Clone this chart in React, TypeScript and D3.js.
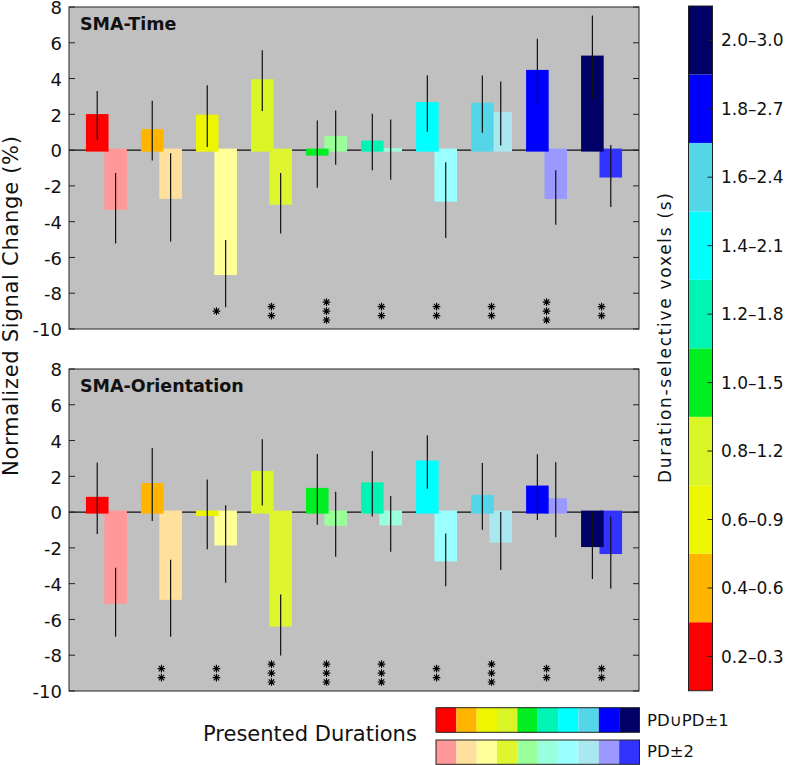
import React from 'react';
import * as d3 from 'd3';

const groups = [1, 2, 3, 4, 5, 6, 7, 8, 9, 10];
const darkColors = ['#ff0000', '#ffb400', '#eef500', '#d9f526', '#00ee22', '#00f5b4', '#00ffff', '#55d5e8', '#0000ff', '#000066'];
const lightColors = ['#ff9999', '#ffe09c', '#ffff99', '#def530', '#99ff99', '#99ffdd', '#99ffff', '#aae8f0', '#9999ff', '#3333ff'];
const durationLabels = ['0.2–0.3', '0.4–0.6', '0.6–0.9', '0.8–1.2', '1.0–1.5', '1.2–1.8', '1.4–2.1', '1.6–2.4', '1.8–2.7', '2.0–3.0'];

// SMA-Time
const timeDark = [1.93, 1.09, 1.9, 3.88, -0.22, 0.45, 2.6, 2.57, 4.4, 5.2];
const timeDarkErr = [1.37, 1.67, 1.72, 1.7, 1.88, 1.58, 1.58, 1.6, 1.82, 2.33];
const timeLight = [-3.25, -2.64, -6.9, -2.97, 0.7, 0.03, -2.8, 2.05, -2.65, -1.45];
const timeLightErr = [1.97, 2.47, 1.88, 1.69, 1.52, 1.68, 2.12, 1.79, 1.52, 1.73];
const timeStars = [0, 0, 1, 2, 3, 2, 2, 2, 3, 2];

// SMA-Orientation
const oriDark = [0.77, 1.54, -0.13, 2.22, 1.27, 1.58, 2.8, 0.88, 1.4, -1.87];
const oriDarkErr = [2.0, 2.04, 1.95, 1.85, 1.98, 1.83, 1.49, 1.87, 1.84, 1.87];
const oriLight = [-5.04, -4.82, -1.78, -6.31, -0.68, -0.66, -2.67, -1.62, 0.69, -2.26];
const oriLightErr = [1.93, 2.15, 2.17, 1.7, 1.82, 1.56, 1.48, 1.62, 2.1, 2.02];
const oriStars = [0, 2, 2, 3, 3, 3, 2, 3, 2, 2];

const yTicks = d3.range(-10, 9, 2);
const starLevel = -9;
const starStep = 0.5;

const FONT = '"DejaVu Sans", Verdana, sans-serif';
const PL = 69, PR = 639, PH = 322;

const starPath = 'M-3.8,0L3.8,0M0,-3.8L0,3.8M-2.7,-2.7L2.7,2.7M-2.7,2.7L2.7,-2.7';

function Panel(props: {
  top: number; title: string;
  dark: number[]; darkErr: number[]; light: number[]; lightErr: number[]; stars: number[];
}) {
  const { top, title, dark, darkErr, light, lightErr, stars } = props;
  const x = d3.scaleLinear().domain([0.32, 10.68]).range([PL, PR]);
  const y = d3.scaleLinear().domain([-10, 8]).range([top + PH, top]);
  const off = 0.167;
  const bw = 0.356;
  const bar = (v: number, cx: number, color: string, key: string) => (
    <rect key={key} x={x(cx - bw / 2)} width={x(bw) - x(0)}
      y={y(Math.max(v, 0))} height={Math.abs(y(v) - y(0))}
      fill={color} stroke={color} strokeWidth={3} />
  );
  return (
    <g>
      <rect x={PL} y={top} width={PR - PL} height={PH} fill="#c0c0c0" />
      <line x1={PL} x2={PR} y1={y(0)} y2={y(0)} stroke="#111" strokeWidth={1.2} />
      {groups.map((g, i) => bar(light[i], g + off, lightColors[i], 'l' + i))}
      {groups.map((g, i) => bar(dark[i], g - off, darkColors[i], 'd' + i))}
      {groups.map((g, i) => (
        <g key={'e' + i}>
          <line x1={x(g - off)} x2={x(g - off)} y1={y(dark[i] + darkErr[i])} y2={y(dark[i] - darkErr[i])} stroke="#111" strokeWidth={1.2} />
          <line x1={x(g + off)} x2={x(g + off)} y1={y(light[i] + lightErr[i])} y2={y(light[i] - lightErr[i])} stroke="#111" strokeWidth={1.2} />
        </g>
      ))}
      {groups.map((g, i) => d3.range(stars[i]).map(k => (
        <path key={'s' + i + '_' + k} d={starPath}
          transform={`translate(${x(g)},${y(starLevel + (k - (stars[i] - 1) / 2) * starStep)})`}
          stroke="#000" strokeWidth={1.1} fill="none" />
      )))}
      {yTicks.map(t => (
        <g key={'t' + t}>
          <line x1={PL} x2={PL + 6} y1={y(t)} y2={y(t)} stroke="#222" strokeWidth={1} />
          <line x1={PR - 6} x2={PR} y1={y(t)} y2={y(t)} stroke="#222" strokeWidth={1} />
          <text x={62} y={y(t)} dy="0.4em" textAnchor="end" fontSize={18} fontFamily={FONT} fill="#111">{String(t)}</text>
        </g>
      ))}
      <rect x={PL} y={top} width={PR - PL} height={PH} fill="none" stroke="#222" strokeWidth={1} />
      <text x={80} y={top + 23} fontSize={17.5} fontWeight="bold" fontFamily={FONT} fill="#111">{title}</text>
    </g>
  );
}

export default function App() {
  const cbY = d3.scaleLinear().domain([0, 10]).range([690.7, 6]);
  const cbX0 = 688.5, cbX1 = 712.5;
  const lx = d3.scaleBand<number>().domain(d3.range(10)).range([436, 639.5]);
  return (
    <svg width={788} height={765} style={{ position: 'absolute', left: 0, top: 0, background: '#fff' }}>
      <Panel top={7} title="SMA-Time" dark={timeDark} darkErr={timeDarkErr} light={timeLight} lightErr={timeLightErr} stars={timeStars} />
      <Panel top={369} title="SMA-Orientation" dark={oriDark} darkErr={oriDarkErr} light={oriLight} lightErr={oriLightErr} stars={oriStars} />
      <text transform="translate(18,306) rotate(-90)" textAnchor="middle" fontSize={21} fontFamily={FONT} fill="#111" textLength={340} lengthAdjust="spacing">Normalized Signal Change (%)</text>

      {/* colorbar */}
      {durationLabels.map((lab, k) => (
        <g key={'cb' + k}>
          <rect x={cbX0} width={cbX1 - cbX0} y={cbY(k + 1)} height={cbY(k) - cbY(k + 1)} fill={darkColors[k]} />
          <line x1={cbX1 - 5} x2={cbX1} y1={cbY(k + 0.5)} y2={cbY(k + 0.5)} stroke="#222" />
          <text x={721} y={cbY(k + 0.5)} dy="0.36em" fontSize={17} fontFamily={FONT} fill="#111">{lab}</text>
        </g>
      ))}
      <rect x={cbX0} width={cbX1 - cbX0} y={cbY(10)} height={cbY(0) - cbY(10)} fill="none" stroke="#222" />
      <text transform="translate(671,338) rotate(-90)" textAnchor="middle" fontSize={17} fontFamily={FONT} fill="#111" textLength={290} lengthAdjust="spacing">Duration-selective voxels (s)</text>

      {/* legend */}
      <text x={203} y={741} fontSize={21} fontFamily={FONT} fill="#111">Presented Durations</text>
      {d3.range(10).map(k => (
        <g key={'lg' + k}>
          <rect x={lx(k)} y={707.7} width={lx.bandwidth()} height={24.6} fill={darkColors[k]} />
          <rect x={lx(k)} y={740} width={lx.bandwidth()} height={24.3} fill={lightColors[k]} />
        </g>
      ))}
      <rect x={436} y={707.7} width={203.5} height={24.6} fill="none" stroke="#222" />
      <rect x={436} y={740} width={203.5} height={24.3} fill="none" stroke="#222" />
      <text x={647} y={725.5} fontSize={16.5} fontFamily={FONT} fill="#111">PD∪PD±1</text>
      <text x={647} y={757} fontSize={16.5} fontFamily={FONT} fill="#111">PD±2</text>
    </svg>
  );
}
